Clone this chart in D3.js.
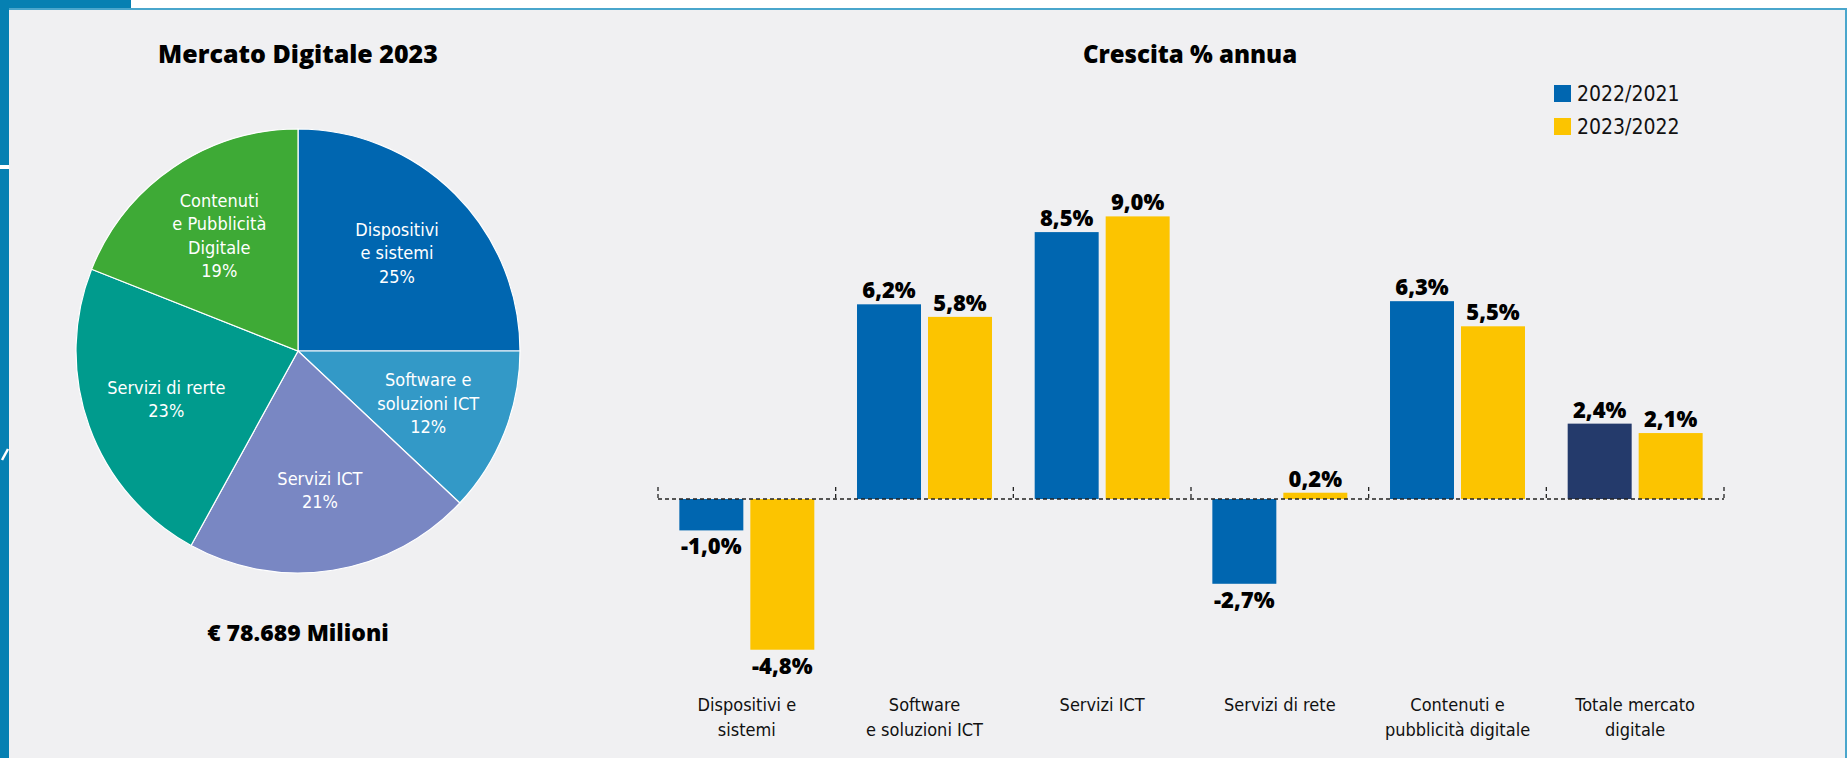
<!DOCTYPE html>
<html><head><meta charset="utf-8">
<script src="https://cdn.jsdelivr.net/npm/d3@7"></script>
<style>
html,body{margin:0;padding:0;background:#fff;}
svg{display:block;}
</style></head>
<body><svg id="c" width="1847" height="758"></svg>
<script>
// ---- data ----
const pieLabels = [["Dispositivi","e sistemi"],["Software e","soluzioni ICT"],["Servizi ICT"],["Servizi di rerte"],["Contenuti","e Pubblicità","Digitale"]];
const pieShares = [25, 12, 21, 23, 19];
const pieColors = ["#0066b0", "#3399c7", "#7987c3", "#009b8d", "#3eaa36"];

const categories = [["Dispositivi e","sistemi"],["Software","e soluzioni ICT"],["Servizi ICT"],["Servizi di rete"],["Contenuti e","pubblicità digitale"],["Totale mercato","digitale"]];
const series = ["2022/2021", "2023/2022"];
const growth2022 = [-1.0, 6.2, 8.5, -2.7, 6.3, 2.4];
const growth2023 = [-4.8, 5.8, 9.0, 0.2, 5.5, 2.1];

const lightFont = "'Liberation Sans Narrow','DejaVu Sans Condensed','Roboto Condensed',sans-serif";
const boldFont = "'Open Sans',Lato,sans-serif";
const fmt = v => v.toFixed(1).replace(".", ",") + "%";

const svg = d3.select("#c");

// ---- frame ----
svg.append("rect").attr("x",0).attr("y",0).attr("width",1847).attr("height",758).attr("fill","#f0f0f2");
svg.append("rect").attr("x",0).attr("y",0).attr("width",1847).attr("height",8).attr("fill","#ffffff");
svg.append("rect").attr("x",0).attr("y",0).attr("width",131).attr("height",9).attr("fill","#0680b2");
svg.append("rect").attr("x",0).attr("y",0).attr("width",9).attr("height",758).attr("fill","#0680b2");
svg.append("rect").attr("x",9).attr("y",8).attr("width",1838).attr("height",2).attr("fill","#4aa6cc");
svg.append("rect").attr("x",1845).attr("y",8).attr("width",2).attr("height",750).attr("fill","#4aa6cc");
svg.append("rect").attr("x",0).attr("y",165).attr("width",9).attr("height",4).attr("fill","#ffffff");
svg.append("line").attr("x1",2).attr("y1",460).attr("x2",8).attr("y2",449).attr("stroke","#ffffff").attr("stroke-width",2.5);

// ---- pie ----
const cx = 298, cy = 351, R = 222;
svg.append("text").attr("x",cx).attr("y",63).attr("text-anchor","middle")
  .attr("font-family",boldFont).attr("font-weight",800).attr("font-size",25).attr("fill","#000")
  .text("Mercato Digitale 2023");

const pie = d3.pie().sort(null).value(d => d)(pieShares);
const arc = d3.arc().innerRadius(0).outerRadius(R);
const labelArc = d3.arc().innerRadius(140).outerRadius(140);
const pg = svg.append("g").attr("transform",`translate(${cx},${cy})`);
pg.selectAll("path").data(pie).join("path")
  .attr("d", arc).attr("fill",(d,i)=>pieColors[i]).attr("stroke","#ffffff").attr("stroke-width",1.2);
pg.selectAll("text.pl").data(pie).join("text").attr("class","pl")
  .attr("text-anchor","middle").attr("font-family",lightFont).attr("font-size",18).attr("fill","#ffffff")
  .each(function(d,i){
    const [x,y] = labelArc.centroid(d);
    const lines = pieLabels[i].concat([d.data + "%"]);
    const lh = 23.5;
    const y0 = y - (lines.length-1)*lh/2 + 7;
    d3.select(this).selectAll("tspan").data(lines).join("tspan")
      .attr("x",x).attr("y",(l,j)=>y0 + j*lh).text(l=>l);
  });

svg.append("text").attr("x",cx).attr("y",641).attr("text-anchor","middle")
  .attr("font-family",boldFont).attr("font-weight",800).attr("font-size",23).attr("fill","#000")
  .text("€ 78.689 Milioni");

// ---- bar chart ----
svg.append("text").attr("x",1190).attr("y",63).attr("text-anchor","middle")
  .attr("font-family",boldFont).attr("font-weight",800).attr("font-size",24).attr("fill","#000")
  .text("Crescita % annua");

const catKeys = categories.map(c => c.join(" "));
const x0 = d3.scaleBand().domain(catKeys).range([658, 1724]).paddingInner(0).paddingOuter(0);
const x1 = d3.scaleBand().domain(series).range([0, x0.bandwidth()]).paddingInner(0.0986).paddingOuter(0.3007);
const y = d3.scaleLinear().domain([-5, 9]).range([499 + 5*31.4, 499 - 9*31.4]);

const colorFor = (s, ci) => s === series[1] ? "#fcc400" : (ci === categories.length-1 ? "#243a6b" : "#0066b0");
const rows = [];
catKeys.forEach((k, ci) => {
  rows.push({k, ci, s: series[0], v: growth2022[ci]});
  rows.push({k, ci, s: series[1], v: growth2023[ci]});
});

const bg = svg.append("g");
bg.selectAll("rect").data(rows).join("rect")
  .attr("x", d => x0(d.k) + x1(d.s))
  .attr("width", x1.bandwidth())
  .attr("y", d => y(Math.max(0, d.v)))
  .attr("height", d => Math.abs(y(d.v) - y(0)))
  .attr("fill", d => colorFor(d.s, d.ci));

bg.selectAll("text").data(rows).join("text")
  .attr("x", d => x0(d.k) + x1(d.s) + x1.bandwidth()/2)
  .attr("y", d => d.v >= 0 ? y(d.v) - 6 : y(d.v) + 24)
  .attr("text-anchor","middle").attr("font-family",boldFont).attr("font-weight",800)
  .attr("font-size",22).attr("fill","#000")
  .text(d => fmt(d.v));

// zero axis dashed with tick marks at band boundaries
const ax = svg.append("g");
ax.append("line").attr("x1", x0.range()[0]).attr("x2", x0.range()[1])
  .attr("y1", y(0)).attr("y2", y(0))
  .attr("stroke","#222").attr("stroke-width",1.3).attr("stroke-dasharray","4,3");
const bounds = catKeys.map(k => x0(k)).concat([x0.range()[1]]);
ax.selectAll("line.tk").data(bounds).join("line").attr("class","tk")
  .attr("x1", d => d).attr("x2", d => d).attr("y1", y(0) - 12).attr("y2", y(0))
  .attr("stroke","#222").attr("stroke-width",1.3).attr("stroke-dasharray","4,3");

// category labels
svg.append("g").selectAll("text").data(categories).join("text")
  .attr("text-anchor","middle").attr("font-family",lightFont).attr("font-size",18).attr("fill","#111")
  .each(function(c, i){
    const cxx = x0(catKeys[i]) + x0.bandwidth()/2;
    d3.select(this).selectAll("tspan").data(c).join("tspan")
      .attr("x", cxx).attr("y", (l,j) => 711 + j*25).text(l => l);
  });

// legend
const lg = svg.append("g");
series.forEach((s, i) => {
  lg.append("rect").attr("x",1554).attr("y",85 + i*33).attr("width",17).attr("height",17)
    .attr("fill", i === 0 ? "#0066b0" : "#fcc400");
  lg.append("text").attr("x",1577).attr("y",101 + i*33).attr("font-family",lightFont)
    .attr("font-size",21).attr("fill","#111").text(s);
});
</script>
</body></html>
